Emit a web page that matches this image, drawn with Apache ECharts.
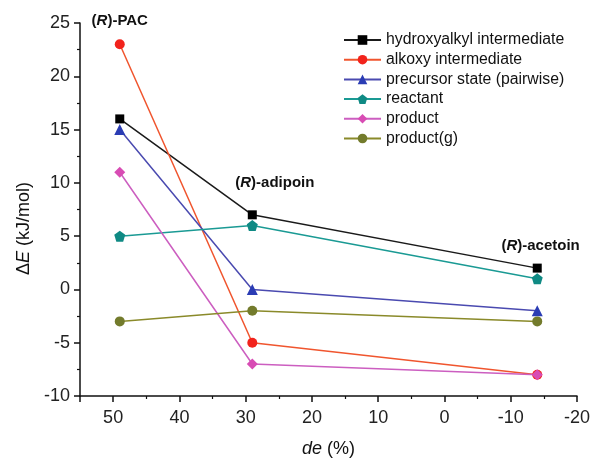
<!DOCTYPE html>
<html style="height: 100%">
<head>
    <meta charset="utf-8">
</head>
<body style="height: 100%; margin: 0; background: #fff">
    <div id="container" style="width: 592px; height: 458px"></div>

    <script type="text/javascript" src="https://cdn.jsdelivr.net/npm/echarts@6/dist/echarts.min.js"></script>
    <script type="text/javascript">
        // de (%) of the three products
        var deValues = [49, 29, -14];

        var seriesNames = ['hydroxyalkyl intermediate', 'alkoxy intermediate',
            'precursor state (pairwise)', 'reactant', 'product', 'product(g)'];
        var hydroxyalkyl = [16, 7, 2];
        var alkoxy = [23, -5, -8];
        var precursor = [15, 0, -2];
        var reactant = [5, 6, 1];
        var product = [11, -7, -8];
        var productG = [-3, -2, -3];

        var labelNames = ['PAC', 'adipoin', 'acetoin'];
        var labelCoords = [[49, 25], [25.6, 10], [-14.5, 4.1]];

        var dom = document.getElementById("container");
        var myChart = echarts.init(dom);
        var font = 'Liberation Sans, Arial, sans-serif';

        function pairs(ys) {
            return ys.map(function (y, i) { return [deValues[i], y]; });
        }

        var pentagon = 'path://M0,-10 L9.5,-3.1 L5.9,8.1 L-5.9,8.1 L-9.5,-3.1 Z';
        var styles = [
            { line: '#1a1a1a', mark: '#000000', symbol: 'rect', size: 9 },
            { line: '#f0552e', mark: '#f2231c', symbol: 'circle', size: 10 },
            { line: '#4a4ab0', mark: '#2a3cb4', symbol: 'triangle', size: 11 },
            { line: '#1a9a94', mark: '#0f8a84', symbol: pentagon, size: 11 },
            { line: '#cc5ec0', mark: '#d84cb4', symbol: 'diamond', size: 11 },
            { line: '#8a8a2a', mark: '#737b2c', symbol: 'circle', size: 10 }
        ];
        var allData = [hydroxyalkyl, alkoxy, precursor, reactant, product, productG];

        var series = allData.map(function (ys, k) {
            var st = styles[k];
            return {
                name: seriesNames[k],
                type: 'line',
                data: pairs(ys),
                symbol: st.symbol,
                symbolSize: st.size,
                showAllSymbol: true,
                clip: false,
                lineStyle: { color: st.line, width: 1.5 },
                itemStyle: { color: st.mark },
                emphasis: { disabled: true }
            };
        });

        series[0].markPoint = {
            symbol: 'circle',
            symbolSize: 0,
            silent: true,
            label: {
                show: true,
                position: 'inside',
                formatter: function (p) { return '{p|(}{r|R}{p|)-' + p.name + '}'; },
                rich: {
                    p: { fontFamily: font, fontWeight: 'bold', fontSize: 15, color: '#111' },
                    r: { fontFamily: font, fontWeight: 'bold', fontStyle: 'italic', fontSize: 15, color: '#111' }
                }
            },
            data: labelNames.map(function (n, i) {
                var d = { name: n, coord: labelCoords[i] };
                if (i === 0) d.label = { offset: [0, -2] };
                return d;
            })
        };

        var option = {
            animation: false,
            backgroundColor: '#fff',
            textStyle: { fontFamily: font },
            grid: { left: 80, right: 15, top: 23, bottom: 62, outerBoundsMode: 'none' },
            legend: {
                orient: 'vertical',
                left: 338,
                top: 27,
                itemWidth: 37,
                itemHeight: 12,
                itemGap: 3.7,
                data: seriesNames,
                textStyle: { fontFamily: font, fontSize: 15.8, color: '#111' }
            },
            xAxis: {
                type: 'value',
                inverse: true,
                min: -20,
                max: 55,
                interval: 10,
                name: '{i|de} (%)',
                nameLocation: 'middle',
                nameGap: 44,
                nameTextStyle: {
                    fontSize: 18,
                    color: '#111',
                    rich: {
                        i: { fontStyle: 'italic', fontSize: 18, color: '#111', fontFamily: font }
                    }
                },
                axisLine: { onZero: false, lineStyle: { color: '#111', width: 1.5 } },
                axisTick: { inside: false, length: 6, lineStyle: { color: '#111', width: 1.5 } },
                minorTick: { show: true, splitNumber: 2, length: 3, lineStyle: { color: '#111', width: 1.2 } },
                axisLabel: { fontSize: 18, color: '#222', margin: 13, showMaxLabel: false },
                splitLine: { show: false }
            },
            yAxis: {
                type: 'value',
                min: -10,
                max: 25,
                interval: 5,
                name: '\u0394{i|E} (kJ/mol)',
                nameLocation: 'middle',
                nameGap: 47,
                nameRotate: 90,
                nameTextStyle: {
                    fontSize: 18,
                    color: '#111',
                    padding: [0, 38, 0, 0],
                    rich: {
                        i: { fontStyle: 'italic', fontSize: 18, color: '#111', fontFamily: font }
                    }
                },
                axisLine: { show: true, onZero: false, lineStyle: { color: '#111', width: 1.5 } },
                axisTick: { inside: false, length: 6, lineStyle: { color: '#111', width: 1.5 } },
                minorTick: { show: true, splitNumber: 2, length: 3, lineStyle: { color: '#111', width: 1.2 } },
                axisLabel: { fontSize: 18, color: '#222', margin: 10 },
                splitLine: { show: false }
            },
            series: series
        };
        myChart.setOption(option);
    </script>
</body>
</html>
